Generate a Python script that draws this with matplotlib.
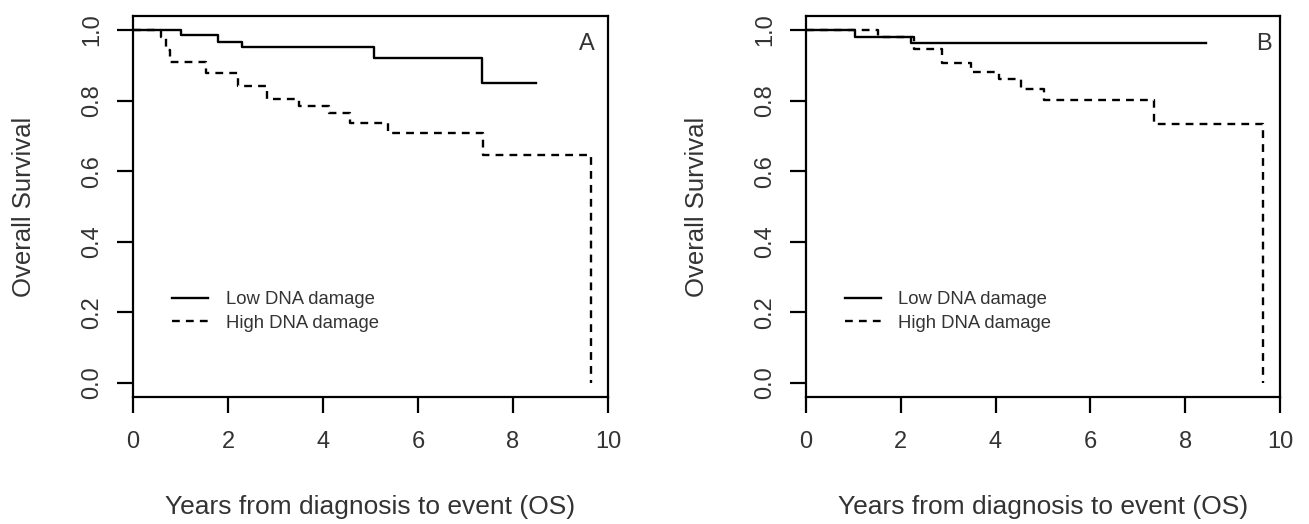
import matplotlib
matplotlib.use("Agg")
import matplotlib.pyplot as plt

plt.rcParams['font.family'] = ['Liberation Sans', 'DejaVu Sans']

# Kaplan-Meier curves (time in years, survival)
a_low_t = [0, 1.02, 1.78, 2.29, 5.07, 7.35, 8.49]
a_low_s = [1.0, 0.986, 0.967, 0.951, 0.922, 0.849, 0.849]
a_high_t = [0, 0.60, 0.70, 0.78, 1.54, 2.22, 2.82, 3.49, 4.12, 4.57, 5.36, 7.36, 9.65]
a_high_s = [1.0, 0.981, 0.943, 0.910, 0.879, 0.842, 0.805, 0.785, 0.764, 0.738, 0.708, 0.646, 0.0]

b_low_t = [0, 1.03, 2.22, 8.43]
b_low_s = [1.0, 0.981, 0.964, 0.964]
b_high_t = [0, 1.52, 2.29, 2.86, 3.49, 4.08, 4.54, 5.03, 7.35, 9.64]
b_high_s = [1.0, 0.981, 0.945, 0.906, 0.882, 0.860, 0.832, 0.802, 0.734, 0.0]

xticks = [0, 2, 4, 6, 8, 10]
yticks = [0.0, 0.2, 0.4, 0.6, 0.8, 1.0]
labels = ['Low DNA damage', 'High DNA damage']
panels = ['A', 'B']

txt = '#333333'
fig = plt.figure(figsize=(13.09, 5.24), dpi=100)
axA = fig.add_axes([0.1016, 0.2424, 0.3629, 0.7271])
axB = fig.add_axes([0.6157, 0.2424, 0.3621, 0.7271])

data = [(axA, a_low_t, a_low_s, a_high_t, a_high_s, 9.56),
        (axB, b_low_t, b_low_s, b_high_t, b_high_s, 9.66)]

for i, (ax, lt, ls, ht, hs, px) in enumerate(data):
    ax.step(lt, ls, where='post', color='black', lw=1.7, label=labels[0])
    ax.step(ht, hs, where='post', color='black', lw=1.7,
            dashes=(3.3, 2.6), label=labels[1])
    ax.set_xlim(0, 10)
    ax.set_ylim(-0.04, 1.04)
    ax.set_xticks(xticks)
    ax.set_yticks(yticks)
    ax.set_yticklabels(['%.1f' % v for v in yticks])
    for sp in ax.spines.values():
        sp.set_linewidth(1.6)
    ax.tick_params(axis='both', length=11.5, width=1.6, labelsize=17,
                   labelcolor=txt)
    ax.tick_params(axis='x', pad=13)
    ax.tick_params(axis='y', pad=10, labelrotation=90)
    for t in ax.get_yticklabels():
        t.set_va('center')
    ax.set_xlabel('Years from diagnosis to event (OS)', fontsize=19, color=txt)
    ax.xaxis.set_label_coords(0.5, -0.258)
    ax.set_ylabel('Overall Survival', fontsize=18.5, color=txt)
    ax.yaxis.set_label_coords(-0.204, 0.5)
    ax.text(px, 0.96, panels[i], fontsize=17, color=txt, ha='center', va='center')
    leg = ax.legend(loc='upper left', bbox_to_anchor=(0.082, 0.278),
                    frameon=False, fontsize=13.3, handlelength=1.95,
                    handletextpad=0.95, labelspacing=0.36, borderpad=0,
                    borderaxespad=0)
    for t in leg.get_texts():
        t.set_color(txt)

fig.savefig('out.png', dpi=100)
